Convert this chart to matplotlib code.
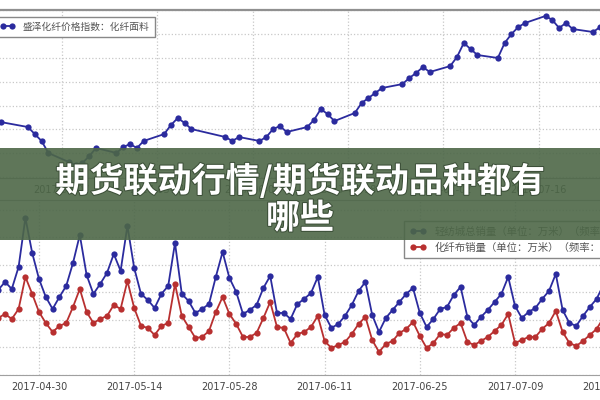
import matplotlib
matplotlib.use('Agg')
import matplotlib.pyplot as plt
import matplotlib.dates as mdates
import matplotlib.patheffects as pe
from matplotlib.patches import Rectangle
import pandas as pd

# top panel: price index (trading days)
top_dates = ['2017-04-28', '2017-05-02', '2017-05-03', '2017-05-04', '2017-05-05',
             '2017-05-08', '2017-05-09', '2017-05-10', '2017-05-11', '2017-05-12',
             '2017-05-15', '2017-05-16', '2017-05-17', '2017-05-18', '2017-05-19',
             '2017-05-22', '2017-05-23', '2017-05-24', '2017-05-25', '2017-05-26',
             '2017-05-31', '2017-06-01', '2017-06-02', '2017-06-05', '2017-06-06',
             '2017-06-07', '2017-06-08', '2017-06-09', '2017-06-12', '2017-06-13',
             '2017-06-14', '2017-06-15', '2017-06-16', '2017-06-19', '2017-06-20',
             '2017-06-21', '2017-06-22', '2017-06-23', '2017-06-26', '2017-06-27',
             '2017-06-28', '2017-06-29', '2017-06-30', '2017-07-03', '2017-07-04',
             '2017-07-05', '2017-07-06', '2017-07-07', '2017-07-10', '2017-07-11',
             '2017-07-12', '2017-07-13', '2017-07-14', '2017-07-17', '2017-07-18',
             '2017-07-19', '2017-07-20', '2017-07-21', '2017-07-24', '2017-07-25']
price_index = [104.62, 104.2, 103.61, 103.03, 102.02, 101.26, 101.01, 101.18, 101.76, 102.44,
               102.02, 102.52, 102.77, 102.44, 103.03, 103.61, 104.37, 104.96, 104.54, 104.03,
               103.36, 103.03, 103.36, 103.03, 103.36, 104.03, 104.28, 103.78, 104.2, 104.79,
               105.71, 105.29, 104.7, 105.38, 106.22, 106.64, 107.06, 107.48, 107.81, 108.32,
               108.74, 109.24, 108.82, 109.32, 110.08, 111.26, 110.75, 110.25, 110.0, 111.26,
               112.01, 112.6, 112.94, 113.53, 113.19, 112.52, 112.94, 112.43, 112.18, 112.6]
top_label = '盛泽化纤价格指数：化纤面料'
top_ticks = ['2017-05-07', '2017-05-21', '2017-06-04', '2017-06-18', '2017-07-02', '2017-07-16']

# bottom panel: daily sales (万米)
bottom_start = '2017-04-24'
total_sales = [1545, 1691, 1564, 1964, 2855, 2218, 1745, 1418, 1200, 1418,
               1618, 2036, 2545, 1818, 1473, 1655, 1855, 2200, 1891, 2709,
               1945, 1473, 1364, 1218, 1473, 1618, 2400, 1473, 1345, 1127,
               1200, 1291, 1782, 2236, 1764, 1509, 1109, 1182, 1273, 1582,
               1800, 1127, 1127, 1018, 1291, 1382, 1491, 1782, 1091, 855,
               927, 1073, 1273, 1527, 1691, 1091, 782, 1036, 1182, 1327,
               1473, 1582, 1127, 873, 1018, 1200, 1236, 1455, 1600, 1055,
               909, 1055, 1182, 1327, 1473, 1782, 1255, 1036, 1145, 1218,
               1382, 1527, 1836, 1182, 945, 891, 1073, 1236, 1382, 1636]
fiber_sales = [1036, 1109, 1018, 1200, 1782, 1473, 1145, 945, 782, 891,
               945, 1236, 1564, 1145, 945, 1018, 1073, 1273, 1200, 1709,
               1218, 891, 855, 727, 891, 945, 1655, 1073, 873, 673,
               691, 800, 1145, 1418, 1109, 927, 691, 691, 764, 1036,
               1327, 873, 855, 582, 745, 782, 873, 1073, 618, 491,
               545, 600, 745, 927, 1055, 636, 418, 564, 618, 764,
               836, 964, 709, 491, 582, 745, 727, 855, 945, 600,
               545, 618, 691, 800, 909, 1109, 582, 636, 691, 691,
               836, 945, 1164, 782, 582, 527, 618, 727, 836, 1036]
bottom_labels = ['轻纺城总销量（单位：万米）（频率：日）', '化纤布销量（单位：万米）（频率：日）']
bottom_ticks = ['2017-04-30', '2017-05-14', '2017-05-28', '2017-06-11',
                '2017-06-25', '2017-07-09', '2017-07-23']

title_lines = ['期货联动行情/期货联动品种都有', '哪些']

cjk = ['Noto Sans CJK SC', 'DejaVu Sans']
blue = '#2b2b9e'
red = '#b83030'

fig = plt.figure(figsize=(6, 4), dpi=100)
fig.patch.set_facecolor('white')

def style(ax):
    ax.grid(True, color='#c8c8c8', linestyle=':', linewidth=0.9)
    for s in ax.spines.values():
        s.set_color('#a0a0a0')
    ax.tick_params(axis='x', length=0, labelsize=7, colors='#444444', pad=5)
    ax.tick_params(axis='y', length=0, labelleft=False)
    ax.xaxis.set_major_formatter(mdates.DateFormatter('%Y-%m-%d'))

# top axes spans beyond the picture on both sides
ax1 = fig.add_axes([-30 / 600, (400 - 178) / 400, 660 / 600, 168 / 400])
td = pd.to_datetime(top_dates)
ax1.plot(td, price_index, color=blue, lw=1.3, marker='o', ms=4.5, mew=0, label=top_label)
ax1.set_xticks(pd.to_datetime(top_ticks))
ax1.set_yticks(range(100, 115, 2))
ref1 = mdates.date2num(pd.Timestamp('2017-05-07'))
ax1.set_xlim(ref1 + (-30 - 62) / 6.81, ref1 + (630 - 62) / 6.81)
ax1.set_ylim(99.92, 114.03)
style(ax1)
ax1.spines['top'].set_color('#909090')
ax1.spines['top'].set_linewidth(1.6)
leg1 = ax1.legend(loc='upper left', bbox_to_anchor=(-10 / 600, 1 - 12 / 400),
                  bbox_transform=fig.transFigure, prop={'family': cjk, 'size': 7},
                  fancybox=False, edgecolor='#888888', framealpha=1, numpoints=2,
                  handlelength=1.6, borderpad=0.5)
for t in leg1.get_texts():
    t.set_color('#555555')

# bottom axes
ax2 = fig.add_axes([-30 / 600, 25 / 400, 660 / 600, 175 / 400])
bd = pd.date_range(bottom_start, periods=len(total_sales), freq='D')
ax2.plot(bd, total_sales, color=blue, lw=1.3, marker='o', ms=4.5, mew=0, label=bottom_labels[0])
ax2.plot(bd, fiber_sales, color=red, lw=1.3, marker='o', ms=4.5, mew=0, label=bottom_labels[1])
ax2.set_xticks(pd.to_datetime(bottom_ticks))
ax2.set_yticks(range(0, 3200, 500))
ref2 = mdates.date2num(pd.Timestamp('2017-04-30'))
ax2.set_xlim(ref2 + (-30 - 39) / 6.8, ref2 + (630 - 39) / 6.8)
ax2.set_ylim(0, 3180)
style(ax2)
leg2 = ax2.legend(loc='upper left', bbox_to_anchor=(399 / 600, 1 - 216 / 400),
                  bbox_transform=fig.transFigure, prop={'family': cjk, 'size': 7.5},
                  fancybox=False, edgecolor='#888888', framealpha=1, numpoints=2,
                  handlelength=1.6, borderpad=0.5, labelspacing=0.55)
for t in leg2.get_texts():
    t.set_color('#555555')

# green banner over both panels
fig.patches.append(Rectangle((0, (400 - 240) / 400), 1, 92 / 400, transform=fig.transFigure,
                             facecolor='#4d6747', alpha=0.9, edgecolor='none', zorder=10))
shadow = [pe.withStroke(linewidth=1.5, foreground='#3c4f38')]
fig.text(0.5, 1 - 181 / 400, title_lines[0], ha='center', va='center', fontsize=24.5,
         weight='bold', color='white', family=cjk, zorder=11, path_effects=shadow)
fig.text(0.5, 1 - 218 / 400, title_lines[1], ha='center', va='center', fontsize=24.5,
         weight='bold', color='white', family=cjk, zorder=11, path_effects=shadow)

fig.savefig('out.png', dpi=100)
